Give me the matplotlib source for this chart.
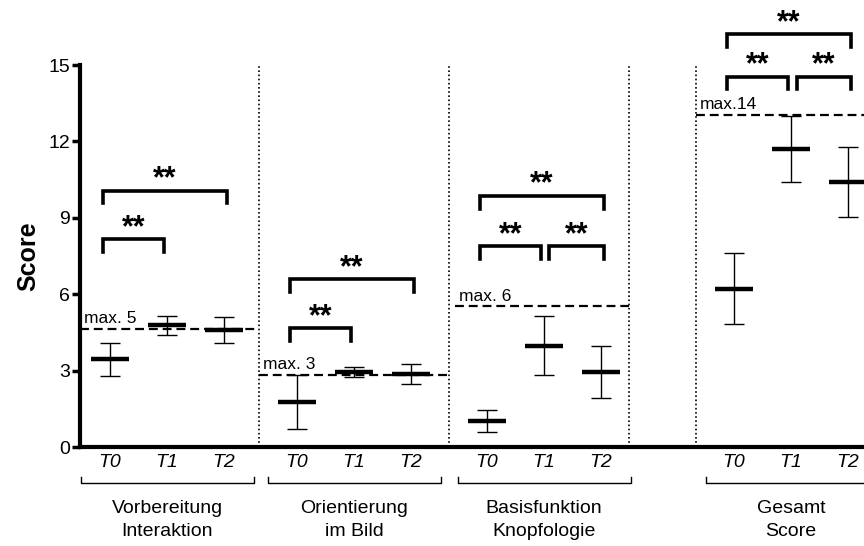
import matplotlib.pyplot as plt
from matplotlib.lines import Line2D

plt.rcParams['font.family'] = ['Liberation Sans', 'DejaVu Sans']

# data
groups = ["Vorbereitung\nInteraktion", "Orientierung\nim Bild", "Basisfunktion\nKnopfologie", "Gesamt\nScore"]
times = ["T0", "T1", "T2"]
means = [[3.45, 4.78, 4.60],
         [1.77, 2.94, 2.88],
         [1.03, 3.99, 2.95],
         [6.22, 11.70, 10.41]]
errs = [[0.64, 0.38, 0.50],
        [1.05, 0.20, 0.38],
        [0.44, 1.17, 1.03],
        [1.40, 1.30, 1.37]]
max_vals = [4.65, 2.84, 5.54, 13.04]
max_labels = ["max. 5", "max. 3", "max. 6", "max.14"]
# significance brackets per group: (from, to, height)
sig = [[(0, 1, 8.16), (0, 2, 10.07)],
       [(0, 1, 4.67), (0, 2, 6.59)],
       [(0, 1, 7.90), (1, 2, 7.90), (0, 2, 9.87)],
       [(0, 1, 14.54), (1, 2, 14.54), (0, 2, 16.20)]]

# layout
group_start = [0, 3.28, 6.61, 10.95]
separators = [2.61, 5.95, 9.10, 10.28]
max_spans = [(-0.53, 2.61), (2.61, 5.95), (6.05, 9.10), (10.28, 13.3)]

fig = plt.figure(figsize=(8.64, 5.46), dpi=100)
ax = fig.add_axes([0.0926, 0.1808, 0.9074, 0.7001])
ax.set_xlim(-0.526, 13.23)
ax.set_ylim(0, 15)

xticks, xlabels = [], []
for g in range(len(groups)):
    xs = [group_start[g] + k for k in range(3)]
    xticks += xs
    xlabels += times
    # error bars and mean bars
    ax.errorbar(xs, means[g], yerr=errs[g], fmt='none', ecolor='black',
                elinewidth=1.0, capsize=7.2, capthick=1.0)
    ax.hlines(means[g], [x - 0.33 for x in xs], [x + 0.33 for x in xs],
              colors='black', linewidth=3.2)
    # max line
    x0, x1 = max_spans[g]
    ax.plot([x0, x1], [max_vals[g]] * 2, color='black', lw=1.6,
            dashes=(4, 2.2), clip_on=False)
    ax.text(x0 + 0.07, max_vals[g] + 0.1, max_labels[g], fontsize=12.5,
            ha='left', va='bottom')
    # significance brackets
    for i, j, h in sig[g]:
        xa = xs[i] - 0.12 if i == 0 else xs[i] + 0.1
        xb = xs[j] + 0.05 if j == 2 else xs[j] - 0.05
        ax.plot([xa, xa, xb, xb], [h - 0.5, h, h, h - 0.5], color='black',
                lw=2.6, solid_joinstyle='miter', clip_on=False)
        ax.text((xa + xb) / 2, h - 0.15, "**", fontsize=22, fontweight='bold',
                ha='center', va='bottom', clip_on=False)
    # group brackets and labels below the axis
    trans = ax.get_xaxis_transform()
    bx0, bx1 = group_start[g] - 0.5, group_start[g] + 2.53
    fig.add_artist(Line2D([bx0, bx0, bx1, bx1], [-0.078, -0.093, -0.093, -0.078],
                          transform=trans, color='black', lw=1.0))
    ax.text(group_start[g] + 1, -0.138, groups[g], transform=trans, fontsize=14,
            ha='center', va='top', linespacing=1.45)

for sx in separators:
    ax.axvline(sx, ymin=0, ymax=1, color='black', lw=1.2, ls=(0, (1, 1.5)))

ax.set_xticks(xticks)
ax.set_xticklabels(xlabels, fontsize=14, fontstyle='italic')
ax.tick_params(axis='x', length=0, pad=5)
ax.set_yticks(range(0, 16, 3))
ax.tick_params(axis='y', labelsize=14, width=2.5, length=6, pad=1)
ax.set_ylabel("Score", fontsize=18, fontweight='bold', labelpad=6)

for side in ['top', 'right']:
    ax.spines[side].set_visible(False)
ax.spines['left'].set_linewidth(3)
ax.spines['bottom'].set_linewidth(3)

fig.savefig("out.png", dpi=100)
